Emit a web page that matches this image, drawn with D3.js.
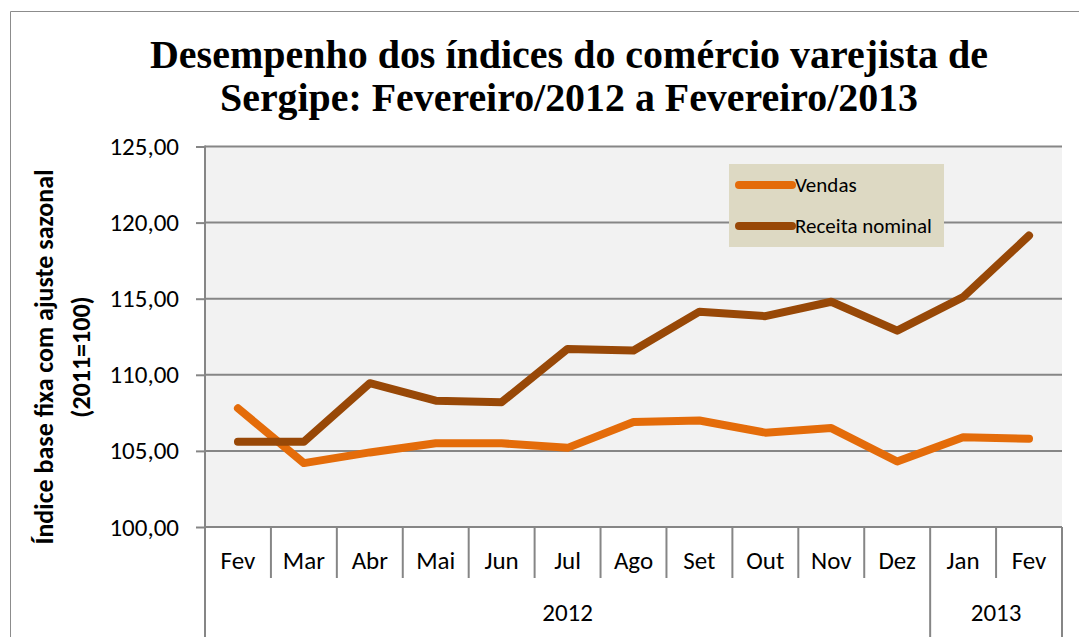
<!DOCTYPE html>
<html>
<head>
<meta charset="utf-8">
<script src="https://cdn.jsdelivr.net/npm/d3@7"></script>
<style>
  body { margin: 0; background: #fff; }
  svg { display: block; }
</style>
</head>
<body>
<svg class="chart" width="1079" height="637"></svg>
<script>
const months = ['Fev', 'Mar', 'Abr', 'Mai', 'Jun', 'Jul', 'Ago', 'Set', 'Out', 'Nov', 'Dez', 'Jan', 'Fev'];
const years = [{ label: '2012', from: 0, to: 11 }, { label: '2013', from: 11, to: 13 }];
const vendas = [107.8, 104.2, 104.9, 105.5, 105.5, 105.2, 106.9, 107.0, 106.2, 106.5, 104.3, 105.9, 105.8];
const receita = [105.6, 105.6, 109.45, 108.3, 108.2, 111.7, 111.6, 114.15, 113.85, 114.8, 112.9, 115.1, 119.15];
const yTicks = [100, 105, 110, 115, 120, 125];

const VENDAS_COLOR = '#e46c0a';
const RECEITA_COLOR = '#984807';
const GRID_COLOR = '#868686';
const LABEL_FONT = 'Carlito, "Liberation Sans", sans-serif';

const plotLeft = 205;
const plotRight = 1062;
const plotTop = 146.5;
const plotBottom = 527;

const svg = d3.select('.chart');

// outer frame (only left and top edges visible in picture)
svg.append('path')
  .attr('d', 'M10.5,637V11.5H1079')
  .attr('fill', 'none')
  .attr('stroke', '#8c8c8c')
  .attr('stroke-width', 1);

const x = d3.scaleBand().domain(d3.range(months.length)).range([plotLeft, plotRight]);
const y = d3.scaleLinear().domain([100, 125]).range([plotBottom, plotTop]);

svg.append('rect')
  .attr('x', plotLeft).attr('y', plotTop)
  .attr('width', plotRight - plotLeft).attr('height', plotBottom - plotTop)
  .attr('fill', '#f2f2f2');

// gridlines + y axis
const yAxis = svg.append('g')
  .attr('transform', `translate(${plotLeft},0)`)
  .call(d3.axisLeft(y).tickValues(yTicks).tickSize(9).tickPadding(17)
    .tickFormat((d) => d3.format('.2f')(d).replace('.', ',')));
yAxis.select('.domain').remove();
yAxis.selectAll('.tick line').attr('stroke', GRID_COLOR).attr('stroke-width', 2);
yAxis.selectAll('.tick text')
  .style('font-family', LABEL_FONT).style('font-size', '25px').attr('fill', '#000');

svg.append('g').selectAll('line')
  .data(yTicks)
  .enter()
  .append('line')
  .attr('x1', plotLeft).attr('x2', plotRight)
  .attr('y1', (d) => y(d)).attr('y2', (d) => y(d))
  .attr('stroke', GRID_COLOR).attr('stroke-width', 2);

svg.append('line')
  .attr('x1', plotLeft).attr('x2', plotLeft).attr('y1', plotTop - 1).attr('y2', plotBottom)
  .attr('stroke', GRID_COLOR).attr('stroke-width', 2);

// category axis with separators
const sep = svg.append('g').attr('stroke', GRID_COLOR).attr('stroke-width', 2);
d3.range(1, months.length).forEach((i) => {
  const isYear = years.some((yr) => yr.from === i);
  sep.append('line')
    .attr('x1', x(i)).attr('x2', x(i))
    .attr('y1', plotBottom).attr('y2', isYear ? 637 : 578);
});
[plotLeft, plotRight].forEach((px) => {
  sep.append('line').attr('x1', px).attr('x2', px).attr('y1', plotBottom).attr('y2', 637);
});

svg.append('g').selectAll('text')
  .data(months)
  .enter()
  .append('text')
  .attr('x', (d, i) => x(i) + x.bandwidth() / 2)
  .attr('y', 569)
  .attr('text-anchor', 'middle')
  .style('font-family', LABEL_FONT).style('font-size', '25px')
  .text((d) => d);

svg.append('g').selectAll('text')
  .data(years)
  .enter()
  .append('text')
  .attr('x', (d) => (x(d.from) + (d.to < months.length ? x(d.to) : plotRight)) / 2)
  .attr('y', 621)
  .attr('text-anchor', 'middle')
  .style('font-family', LABEL_FONT).style('font-size', '25px')
  .text((d) => d.label);

// lines
const line = d3.line()
  .x((d, i) => x(i) + x.bandwidth() / 2)
  .y((d) => y(d));

[[vendas, VENDAS_COLOR], [receita, RECEITA_COLOR]].forEach(([values, color]) => {
  svg.append('path')
    .datum(values)
    .attr('d', line)
    .attr('fill', 'none')
    .attr('stroke', color)
    .attr('stroke-width', 8)
    .attr('stroke-linecap', 'round')
    .attr('stroke-linejoin', 'round');
});

// legend
const legend = svg.append('g');
legend.append('rect')
  .attr('x', 729).attr('y', 164).attr('width', 215).attr('height', 83)
  .attr('fill', '#ddd9c3');
[['Vendas', VENDAS_COLOR, 185], ['Receita nominal', RECEITA_COLOR, 226]].forEach(([name, color, ly]) => {
  legend.append('line')
    .attr('x1', 739).attr('x2', 792).attr('y1', ly).attr('y2', ly)
    .attr('stroke', color).attr('stroke-width', 8).attr('stroke-linecap', 'round');
  legend.append('text')
    .attr('x', 795).attr('y', ly + 7)
    .style('font-family', LABEL_FONT).style('font-size', '21px')
    .text(name);
});

// y axis title
const yTitle = svg.append('text')
  .attr('transform', 'translate(62,357) rotate(-90)')
  .attr('text-anchor', 'middle')
  .style('font-family', LABEL_FONT).style('font-size', '26px').style('font-weight', 'bold');
yTitle.append('tspan').attr('x', 0).attr('dy', -9).text('Índice base fixa com ajuste sazonal');
yTitle.append('tspan').attr('x', 0).attr('dy', 37).text('(2011=100)');

// title
const title = svg.append('text')
  .attr('text-anchor', 'middle')
  .style('font-family', '"Liberation Serif", "Times New Roman", serif')
  .style('font-size', '40px').style('font-weight', 'bold');
title.append('tspan').attr('x', 569).attr('y', 68)
  .attr('textLength', 838).attr('lengthAdjust', 'spacingAndGlyphs')
  .text('Desempenho dos índices do comércio varejista de');
title.append('tspan').attr('x', 569).attr('y', 111)
  .attr('textLength', 698).attr('lengthAdjust', 'spacingAndGlyphs')
  .text('Sergipe: Fevereiro/2012 a Fevereiro/2013');
</script>
</body>
</html>
